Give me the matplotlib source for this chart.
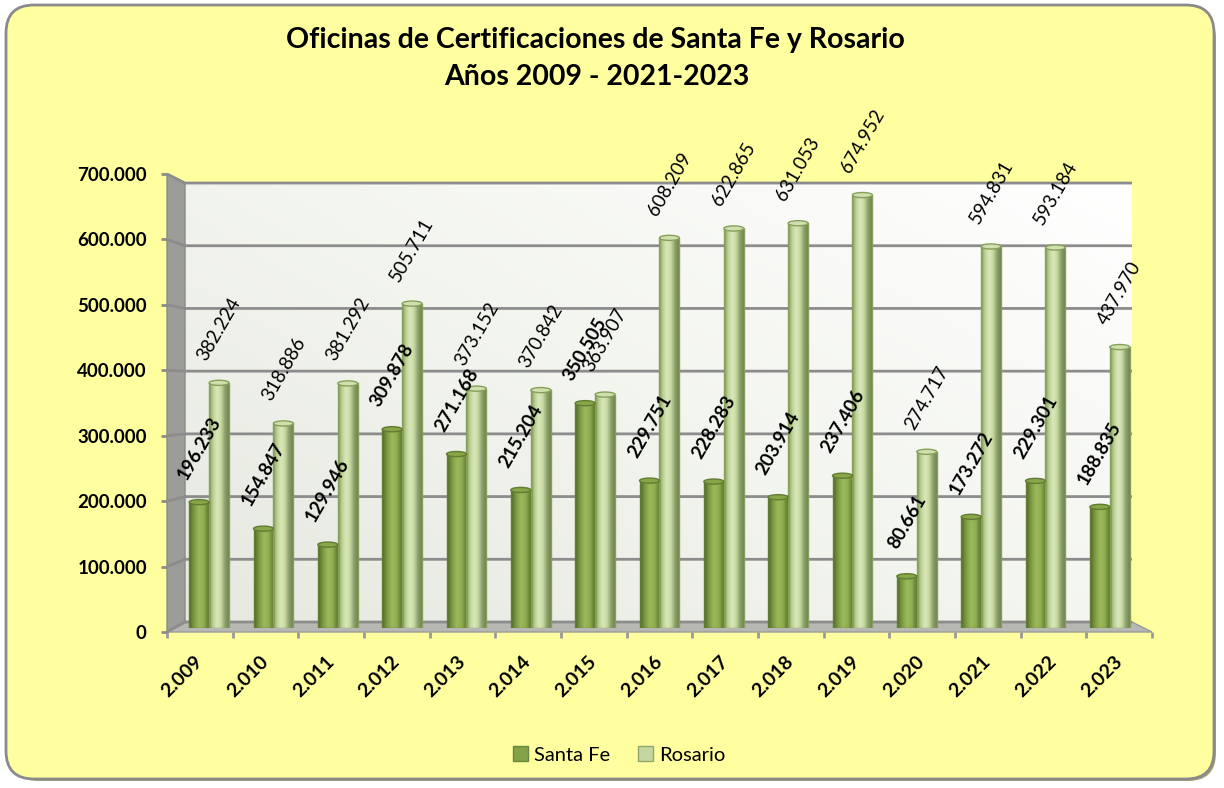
import numpy as np
import matplotlib
matplotlib.use("Agg")
import matplotlib.pyplot as plt
from matplotlib.patches import FancyBboxPatch, Polygon, Ellipse, Patch
from matplotlib.colors import LinearSegmentedColormap
from matplotlib.ticker import FuncFormatter

plt.rcParams['font.family'] = ['Lato', 'DejaVu Sans']

# data
years = ['2.009', '2.010', '2.011', '2.012', '2.013', '2.014', '2.015', '2.016',
         '2.017', '2.018', '2.019', '2.020', '2.021', '2.022', '2.023']
santa_fe = [196233, 154847, 129946, 309878, 271168, 215204, 350505, 229751,
            228283, 203914, 237406, 80661, 173272, 229301, 188835]
rosario = [382224, 318886, 381292, 505711, 373152, 370842, 363907, 608209,
           622865, 631053, 674952, 274717, 594831, 593184, 437970]
yticks = [0, 100000, 200000, 300000, 400000, 500000, 600000, 700000]

W, H = 1224, 788

def fmt(v, pos=None):
    return f"{v:,.0f}".replace(',', '.')

fig = plt.figure(figsize=(W / 100, H / 100), dpi=100)
fig.patch.set_facecolor('white')

# background layer in pixel coords
bg = fig.add_axes([0, 0, 1, 1], zorder=0)
bg.set_xlim(0, W)
bg.set_ylim(H, 0)
bg.axis('off')

bg.add_patch(FancyBboxPatch((12, 11), W - 20, H - 18, boxstyle="round,pad=0,rounding_size=28",
                            facecolor='#8c8c50', edgecolor='none', alpha=0.8))
bg.add_patch(FancyBboxPatch((6, 5), W - 16, H - 14, boxstyle="round,pad=0,rounding_size=28",
                            facecolor='#FFFFA0', edgecolor='#8a8a8a', linewidth=2))

# back wall with soft gradient
gx, gy = np.meshgrid(np.linspace(0, 1, 200), np.linspace(0, 1, 200))
wall = np.clip(0.55 * gx + 0.45 * (1 - gy), 0, 1)
wall_cmap = LinearSegmentedColormap.from_list('wall', ['#E6E9E0', '#F3F5EF', '#FFFFFF'])
bg.imshow(wall, cmap=wall_cmap, extent=(185, 1132, 622, 183), aspect='auto', zorder=1)
bg.set_xlim(0, W)
bg.set_ylim(H, 0)

# left wall and floor
bg.add_patch(Polygon([(167, 174), (185, 183), (185, 622), (167, 632)],
                     facecolor='#9B9D98', edgecolor='#8a8a8a', lw=1, zorder=2))
bg.add_patch(Polygon([(167, 632), (1152, 632), (1132, 622), (185, 622)],
                     facecolor='#B7B8B4', edgecolor='#9a9a9a', lw=1, zorder=2))

# gridlines (front edge -> left wall -> back wall)
for v in yticks:
    yf = 632 - v / 100000 * 65.43
    yb = 622 - v / 100000 * 62.71
    bg.plot([167, 185, 1132], [yf, yb, yb], color='#8C8C8C', lw=2, zorder=3,
            solid_capstyle='butt')

# frame axes: ticks and tick labels on front edge
fr = fig.add_axes([167 / W, 1 - 632 / H, 985 / W, 458 / H], zorder=1)
fr.patch.set_visible(False)
for s in fr.spines.values():
    s.set_visible(False)
fr.set_xlim(0, 15)
fr.set_ylim(0, 700000)
fr.set_yticks(yticks)
fr.yaxis.set_major_formatter(FuncFormatter(fmt))
fr.tick_params(axis='y', length=4.5, width=2, color='#8C8C8C', pad=10,
               labelsize=13.5)
for t in fr.get_yticklabels():
    t.set_fontweight('bold')
fr.set_xticks(np.arange(16))
fr.set_xticklabels([])
fr.set_xticks(np.arange(15) + 0.5, minor=True)
fr.set_xticklabels(years, minor=True)
fr.tick_params(axis='x', which='major', length=4.5, width=2, color='#9a9a9a')
fr.tick_params(axis='x', which='minor', length=0, pad=19, labelsize=14)
for t in fr.get_xticklabels(minor=True):
    t.set_rotation(45)
    t.set_ha('right')
    t.set_va('center')
    t.set_rotation_mode('anchor')
    t.set_fontweight('bold')

# bars axes at mid depth
ax = fig.add_axes([176 / W, 1 - 628 / H, 965 / W, 449 / H], zorder=2)
ax.patch.set_visible(False)
ax.axis('off')

x = np.arange(len(years))
w = 0.31
sf_stops = ['#4F6A26', '#7C9A42', '#9CBA5C', '#8FAE50', '#5B772D']
ro_stops = ['#7F9858', '#BCD292', '#DAE8BC', '#C6DAA0', '#8FA26E', '#6E8450']
sf_edge = '#627D32'
ro_edge = '#86A05A'

bars_sf = ax.bar(x + 0.36, santa_fe, w, facecolor='none', edgecolor=sf_edge, lw=1, zorder=3)
bars_ro = ax.bar(x + 0.67, rosario, w, facecolor='none', edgecolor=ro_edge, lw=1, zorder=3)

def shade(bars, stops, cap_face, cap_edge):
    cmap = LinearSegmentedColormap.from_list('g', stops)
    grad = np.linspace(0, 1, 64).reshape(1, -1)
    for b in bars:
        x0, bw, h = b.get_x(), b.get_width(), b.get_height()
        im = ax.imshow(grad, cmap=cmap, extent=(x0, x0 + bw, 0, h), aspect='auto', zorder=2)
        im.set_clip_path(b)
        ax.add_patch(Ellipse((x0 + bw / 2, h), bw, 8000, facecolor=cap_face,
                             edgecolor=cap_edge, lw=1, zorder=4))

shade(bars_sf, sf_stops, '#88A548', sf_edge)
shade(bars_ro, ro_stops, '#CFE0AE', ro_edge)
ax.set_xlim(0, 15)
ax.set_ylim(0, 700000)

# data labels
for xi, v in zip(x + 0.36, santa_fe):
    ax.annotate(fmt(v), (xi, v), xytext=(0, 39), textcoords='offset points',
                rotation=60, ha='center', va='center', rotation_mode='anchor',
                fontsize=13.5, fontweight='bold', zorder=5, annotation_clip=False)
for xi, v in zip(x + 0.67, rosario):
    ax.annotate(fmt(v), (xi, v), xytext=(0, 39), textcoords='offset points',
                rotation=60, ha='center', va='center', rotation_mode='anchor',
                fontsize=13.5, zorder=5, annotation_clip=False)

# title
fig.text(595 / W, 1 - 40 / H, 'Oficinas de Certificaciones de Santa Fe y Rosario',
         ha='center', va='center', fontsize=20.5, fontweight='bold')
fig.text(597 / W, 1 - 77 / H, 'Años 2009 - 2021-2023',
         ha='center', va='center', fontsize=20.5, fontweight='bold')

# legend
handles = [Patch(facecolor='#84A24A', edgecolor='#6A863A', label='Santa Fe'),
           Patch(facecolor='#C4D7A0', edgecolor='#8FA86A', label='Rosario')]
fig.legend(handles=handles, loc='center', bbox_to_anchor=(619 / W, 1 - 755 / H), ncol=2,
           frameon=False, fontsize=14.5, handlelength=0.75, handleheight=0.75,
           handletextpad=0.3, columnspacing=1.4)

fig.savefig('out.png', dpi=100)
